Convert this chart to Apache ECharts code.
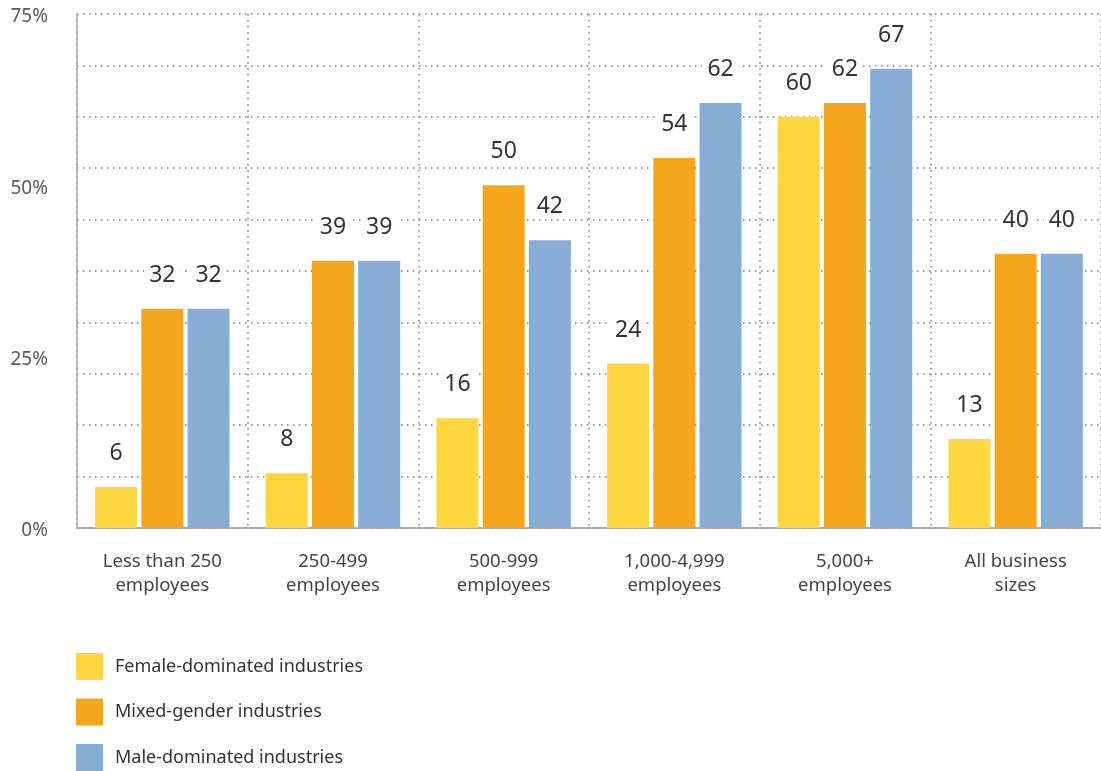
<!DOCTYPE html>
<html>
<head>
<meta charset="utf-8">
<script src="https://cdn.jsdelivr.net/npm/echarts@6/dist/echarts.min.js"></script>
<style>
html,body{margin:0;padding:0;background:#fff;}
#chart{width:1101px;height:771px;}
</style>
</head>
<body>
<div id="chart"></div>
<script>
const categories = ['Less than 250\nemployees', '250-499\nemployees', '500-999\nemployees', '1,000-4,999\nemployees', '5,000+\nemployees', 'All business\nsizes'];
const seriesNames = ['Female-dominated industries', 'Mixed-gender industries', 'Male-dominated industries'];
const femaleValues = [6, 8, 16, 24, 60, 13];
const mixedValues = [32, 39, 50, 54, 62, 40];
const maleValues = [32, 39, 42, 62, 67, 40];
const yTickValues = [0, 25, 50, 75];

const colors = ['#FED640', '#F6A61D', '#87ACD6'];
const FONT = '"Noto Sans", "Open Sans", sans-serif';

const chart = echarts.init(document.getElementById('chart'));

function barSeries(name, data, color) {
  return {
    name: name,
    type: 'bar',
    data: data,
    barWidth: 42,
    barGap: '10%',
    yAxisIndex: 0,
    itemStyle: { color: color },
    label: {
      show: true,
      position: 'top',
      distance: 22,
      fontSize: 23,
      fontFamily: FONT,
      color: '#333',
      backgroundColor: '#fff',
      padding: [0, 5]
    }
  };
}

chart.setOption({
  animation: false,
  backgroundColor: '#fff',
  color: colors,
  textStyle: { fontFamily: FONT },
  grid: { left: 77, width: 1036, top: 14, bottom: 243, containLabel: false },
  legend: {
    orient: 'vertical',
    left: 76,
    top: 653,
    height: 140,
    padding: 0,
    itemWidth: 27,
    itemHeight: 27,
    itemGap: 18.5,
    icon: 'rect',
    data: seriesNames,
    textStyle: { fontSize: 18, color: '#333', fontFamily: FONT, padding: [0, 0, 0, 7] }
  },
  xAxis: {
    type: 'category',
    data: categories,
    axisLine: { show: true, lineStyle: { color: '#999', width: 1.5 } },
    axisTick: { show: false },
    axisLabel: {
      interval: 0,
      fontSize: 18.5,
      lineHeight: 24,
      color: '#444',
      margin: 22,
      fontFamily: FONT
    },
    splitLine: {
      show: true,
      interval: 0,
      lineStyle: { color: '#999', width: 2, type: [1.5, 4.5] }
    }
  },
  yAxis: [
    {
      type: 'value',
      min: 0,
      max: 75,
      interval: 25,
      position: 'left',
      axisLine: { show: true, lineStyle: { color: '#aaa', width: 1.5 } },
      axisTick: { show: false },
      splitLine: { show: false },
      axisLabel: {
        fontSize: 19,
        color: '#5a5a5a',
        margin: 29,
        verticalAlign: 'top',
        lineHeight: 6,
        fontFamily: FONT,
        formatter: function (v) { return yTickValues.indexOf(v) >= 0 ? v + '%' : ''; }
      }
    },
    {
      type: 'value',
      min: 0,
      max: 75,
      interval: 7.5,
      position: 'left',
      axisLine: { show: false },
      axisTick: { show: false },
      axisLabel: { show: false },
      splitLine: { show: true, lineStyle: { color: '#999', width: 2, type: [1.5, 4.5] } }
    }
  ],
  series: [
    barSeries(seriesNames[0], femaleValues, colors[0]),
    barSeries(seriesNames[1], mixedValues, colors[1]),
    barSeries(seriesNames[2], maleValues, colors[2])
  ]
});
</script>
</body>
</html>
